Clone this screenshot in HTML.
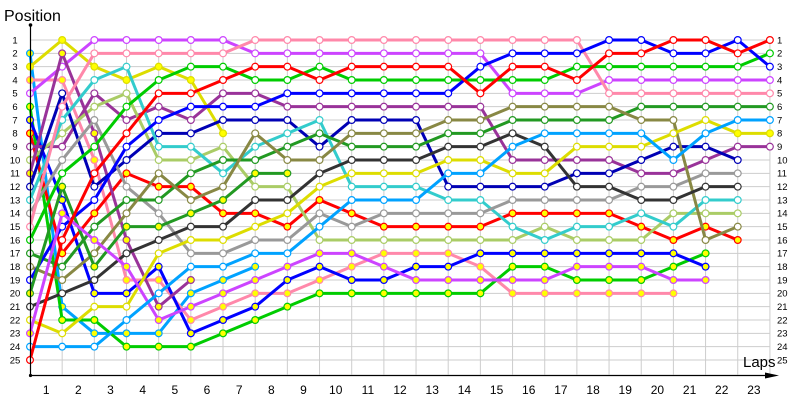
<!DOCTYPE html>
<html><head><meta charset="utf-8"><style>
html,body{margin:0;padding:0;background:#fff;}
svg{display:block;font-family:"Liberation Sans",sans-serif;}
.g path{vector-effect:non-scaling-stroke;fill:none;}
.grid{stroke:#cdcdcd;stroke-width:1;}
.ln{stroke-width:3;stroke-linejoin:round;stroke-linecap:round;}
.mk{stroke-width:8;stroke-linecap:round;}
.mf{stroke-width:5.6;stroke-linecap:round;}
.yl text{font-size:9.5px;fill:#000;}
.xl text{font-size:12px;fill:#000;text-anchor:middle;}
</style></head><body>
<svg width="800" height="400" viewBox="0 0 800 400" xmlns="http://www.w3.org/2000/svg">
<rect width="800" height="400" fill="#fff"/>
<g class="g" transform="translate(30,26.667) scale(32.17,13.333)">
<path class="grid" d="M0,1H23M0,2H23M0,3H23M0,4H23M0,5H23M0,6H23M0,7H23M0,8H23M0,9H23M0,10H23M0,11H23M0,12H23M0,13H23M0,14H23M0,15H23M0,16H23M0,17H23M0,18H23M0,19H23M0,20H23M0,21H23M0,22H23M0,23H23M0,24H23M0,25H23"/>
<path class="grid" d="M1,1V26.1M2,1V26.1M3,1V26.1M4,1V26.1M5,1V26.1M6,1V26.1M7,1V26.1M8,1V26.1M9,1V26.1M10,1V26.1M11,1V26.1M12,1V26.1M13,1V26.1M14,1V26.1M15,1V26.1M16,1V26.1M17,1V26.1M18,1V26.1M19,1V26.1M20,1V26.1M21,1V26.1M22,1V26.1M23,1V26.1"/>

<!-- lightblue Y -->
<path class="ln" stroke="#00a2ff" d="M0,2L1,21 2,23 3,23 4,23 5,20 6,19 7,18"/>
<path class="mk" stroke="#00a2ff" d="M0,2h0M1,21h0M2,23h0M3,23h0M4,23h0M5,20h0M6,19h0M7,18h0"/>
<path class="mf" stroke="#ffff00" d="M0,2h0M1,21h0M2,23h0M3,23h0M4,23h0M5,20h0M6,19h0M7,18h0"/>
<!-- yellow Y -->
<path class="ln" stroke="#dddd00" d="M0,3L1,1 2,3 3,4 4,3 5,4 6,8"/>
<path class="mk" stroke="#dddd00" d="M0,3h0M1,1h0M2,3h0M3,4h0M4,3h0M5,4h0M6,8h0"/>
<path class="mf" stroke="#ffff00" d="M0,3h0M1,1h0M2,3h0M3,4h0M4,3h0M5,4h0M6,8h0"/>
<!-- pink Y -->
<path class="ln" stroke="#ff88aa" d="M0,4L1,4 2,10 3,19 4,19 5,22 6,21 7,20 8,20 9,19 10,18 11,17 12,17 13,17 14,18 15,20 16,20 17,20 18,20 19,20 20,20"/>
<path class="mk" stroke="#ff88aa" d="M0,4h0M1,4h0M2,10h0M3,19h0M4,19h0M5,22h0M6,21h0M7,20h0M8,20h0M9,19h0M10,18h0M11,17h0M12,17h0M13,17h0M14,18h0M15,20h0M16,20h0M17,20h0M18,20h0M19,20h0M20,20h0"/>
<path class="mf" stroke="#ffff00" d="M0,4h0M1,4h0M2,10h0M3,19h0M4,19h0M5,22h0M6,21h0M7,20h0M8,20h0M9,19h0M10,18h0M11,17h0M12,17h0M13,17h0M14,18h0M15,20h0M16,20h0M17,20h0M18,20h0M19,20h0M20,20h0"/>
<!-- magenta W -->
<path class="ln" stroke="#cc44ff" d="M0,5L1,3 2,1 3,1 4,1 5,1 6,1 7,2 8,2 9,2 10,2 11,2 12,2 13,2 14,2 15,5 16,5 17,5 18,4 19,4 20,4 21,4 22,4 23,4"/>
<path class="mk" stroke="#cc44ff" d="M0,5h0M1,3h0M2,1h0M3,1h0M4,1h0M5,1h0M6,1h0M7,2h0M8,2h0M9,2h0M10,2h0M11,2h0M12,2h0M13,2h0M14,2h0M15,5h0M16,5h0M17,5h0M18,4h0M19,4h0M20,4h0M21,4h0M22,4h0M23,4h0"/>
<path class="mf" stroke="#ffffff" d="M0,5h0M1,3h0M2,1h0M3,1h0M4,1h0M5,1h0M6,1h0M7,2h0M8,2h0M9,2h0M10,2h0M11,2h0M12,2h0M13,2h0M14,2h0M15,5h0M16,5h0M17,5h0M18,4h0M19,4h0M20,4h0M21,4h0M22,4h0M23,4h0"/>
<!-- green Y -->
<path class="ln" stroke="#00cc00" d="M0,6L1,22 2,22 3,24 4,24 5,24 6,23 7,22 8,21 9,20 10,20 11,20 12,20 13,20 14,20 15,18 16,18 17,19 18,19 19,19 20,18 21,17"/>
<path class="mk" stroke="#00cc00" d="M0,6h0M1,22h0M2,22h0M3,24h0M4,24h0M5,24h0M6,23h0M7,22h0M8,21h0M9,20h0M10,20h0M11,20h0M12,20h0M13,20h0M14,20h0M15,18h0M16,18h0M17,19h0M18,19h0M19,19h0M20,18h0M21,17h0"/>
<path class="mf" stroke="#ffff00" d="M0,6h0M1,22h0M2,22h0M3,24h0M4,24h0M5,24h0M6,23h0M7,22h0M8,21h0M9,20h0M10,20h0M11,20h0M12,20h0M13,20h0M14,20h0M15,18h0M16,18h0M17,19h0M18,19h0M19,19h0M20,18h0M21,17h0"/>
<!-- blue Y -->
<path class="ln" stroke="#0000ff" d="M0,7L1,13 2,20 3,20 4,18 5,23 6,22 7,21 8,19 9,18 10,19 11,19 12,18 13,18 14,17 15,17 16,17 17,17 18,17 19,17 20,17 21,18"/>
<path class="mk" stroke="#0000ff" d="M0,7h0M1,13h0M2,20h0M3,20h0M4,18h0M5,23h0M6,22h0M7,21h0M8,19h0M9,18h0M10,19h0M11,19h0M12,18h0M13,18h0M14,17h0M15,17h0M16,17h0M17,17h0M18,17h0M19,17h0M20,17h0M21,18h0"/>
<path class="mf" stroke="#ffff00" d="M0,7h0M1,13h0M2,20h0M3,20h0M4,18h0M5,23h0M6,22h0M7,21h0M8,19h0M9,18h0M10,19h0M11,19h0M12,18h0M13,18h0M14,17h0M15,17h0M16,17h0M17,17h0M18,17h0M19,17h0M20,17h0M21,18h0"/>
<!-- red Y -->
<path class="ln" stroke="#ff0000" d="M0,8L1,17 2,14 3,11 4,12 5,12 6,14 7,14 8,15 9,13 10,14 11,15 12,15 13,15 14,15 15,14 16,14 17,14 18,14 19,15 20,16 21,15 22,16"/>
<path class="mk" stroke="#ff0000" d="M0,8h0M1,17h0M2,14h0M3,11h0M4,12h0M5,12h0M6,14h0M7,14h0M8,15h0M9,13h0M10,14h0M11,15h0M12,15h0M13,15h0M14,15h0M15,14h0M16,14h0M17,14h0M18,14h0M19,15h0M20,16h0M21,15h0M22,16h0"/>
<path class="mf" stroke="#ffff00" d="M0,8h0M1,17h0M2,14h0M3,11h0M4,12h0M5,12h0M6,14h0M7,14h0M8,15h0M9,13h0M10,14h0M11,15h0M12,15h0M13,15h0M14,15h0M15,14h0M16,14h0M17,14h0M18,14h0M19,15h0M20,16h0M21,15h0M22,16h0"/>
<!-- purple W -->
<path class="ln" stroke="#993399" d="M0,9L1,9 2,5 3,7 4,6 5,7 6,5 7,5 8,6 9,6 10,6 11,6 12,6 13,6 14,6 15,10 16,10 17,10 18,10 19,11 20,11 21,10 22,9 23,9"/>
<path class="mk" stroke="#993399" d="M0,9h0M1,9h0M2,5h0M3,7h0M4,6h0M5,7h0M6,5h0M7,5h0M8,6h0M9,6h0M10,6h0M11,6h0M12,6h0M13,6h0M14,6h0M15,10h0M16,10h0M17,10h0M18,10h0M19,11h0M20,11h0M21,10h0M22,9h0M23,9h0"/>
<path class="mf" stroke="#ffffff" d="M0,9h0M1,9h0M2,5h0M3,7h0M4,6h0M5,7h0M6,5h0M7,5h0M8,6h0M9,6h0M10,6h0M11,6h0M12,6h0M13,6h0M14,6h0M15,10h0M16,10h0M17,10h0M18,10h0M19,11h0M20,11h0M21,10h0M22,9h0M23,9h0"/>
<!-- light olive W -->
<path class="ln" stroke="#aacc66" d="M0,10L1,8 2,6 3,5 4,10 5,10 6,9 7,12 8,12 9,16 10,16 11,16 12,16 13,16 14,16 15,16 16,15 17,16 18,16 19,16 20,14 21,14 22,14"/>
<path class="mk" stroke="#aacc66" d="M0,10h0M1,8h0M2,6h0M3,5h0M4,10h0M5,10h0M6,9h0M7,12h0M8,12h0M9,16h0M10,16h0M11,16h0M12,16h0M13,16h0M14,16h0M15,16h0M16,15h0M17,16h0M18,16h0M19,16h0M20,14h0M21,14h0M22,14h0"/>
<path class="mf" stroke="#ffffff" d="M0,10h0M1,8h0M2,6h0M3,5h0M4,10h0M5,10h0M6,9h0M7,12h0M8,12h0M9,16h0M10,16h0M11,16h0M12,16h0M13,16h0M14,16h0M15,16h0M16,15h0M17,16h0M18,16h0M19,16h0M20,14h0M21,14h0M22,14h0"/>
<!-- purple Y -->
<path class="ln" stroke="#993399" d="M0,11L1,2 2,8 3,16 4,21 5,19"/>
<path class="mk" stroke="#993399" d="M0,11h0M1,2h0M2,8h0M3,16h0M4,21h0M5,19h0"/>
<path class="mf" stroke="#ffff00" d="M0,11h0M1,2h0M2,8h0M3,16h0M4,21h0M5,19h0"/>
<!-- dark blue W -->
<path class="ln" stroke="#0000b4" d="M0,12L1,5 2,12 3,10 4,8 5,8 6,7 7,7 8,7 9,9 10,7 11,7 12,7 13,12 14,12 15,12 16,12 17,11 18,11 19,10 20,9 21,9 22,10"/>
<path class="mk" stroke="#0000b4" d="M0,12h0M1,5h0M2,12h0M3,10h0M4,8h0M5,8h0M6,7h0M7,7h0M8,7h0M9,9h0M10,7h0M11,7h0M12,7h0M13,12h0M14,12h0M15,12h0M16,12h0M17,11h0M18,11h0M19,10h0M20,9h0M21,9h0M22,10h0"/>
<path class="mf" stroke="#ffffff" d="M0,12h0M1,5h0M2,12h0M3,10h0M4,8h0M5,8h0M6,7h0M7,7h0M8,7h0M9,9h0M10,7h0M11,7h0M12,7h0M13,12h0M14,12h0M15,12h0M16,12h0M17,11h0M18,11h0M19,10h0M20,9h0M21,9h0M22,10h0"/>
<!-- cyan W -->
<path class="ln" stroke="#33cccc" d="M0,13L1,7 2,4 3,3 4,9 5,9 6,11 7,9 8,8 9,7 10,12 11,12 12,12 13,13 14,13 15,15 16,16 17,15 18,15 19,14 20,15 21,13 22,13"/>
<path class="mk" stroke="#33cccc" d="M0,13h0M1,7h0M2,4h0M3,3h0M4,9h0M5,9h0M6,11h0M7,9h0M8,8h0M9,7h0M10,12h0M11,12h0M12,12h0M13,13h0M14,13h0M15,15h0M16,16h0M17,15h0M18,15h0M19,14h0M20,15h0M21,13h0M22,13h0"/>
<path class="mf" stroke="#ffffff" d="M0,13h0M1,7h0M2,4h0M3,3h0M4,9h0M5,9h0M6,11h0M7,9h0M8,8h0M9,7h0M10,12h0M11,12h0M12,12h0M13,13h0M14,13h0M15,15h0M16,16h0M17,15h0M18,15h0M19,14h0M20,15h0M21,13h0M22,13h0"/>
<!-- gray W -->
<path class="ln" stroke="#999999" d="M0,14L1,10 2,7 3,12 4,14 5,17 6,17 7,16 8,16 9,14 10,15 11,14 12,14 13,14 14,14 15,13 16,13 17,13 18,13 19,12 20,12 21,11 22,11"/>
<path class="mk" stroke="#999999" d="M0,14h0M1,10h0M2,7h0M3,12h0M4,14h0M5,17h0M6,17h0M7,16h0M8,16h0M9,14h0M10,15h0M11,14h0M12,14h0M13,14h0M14,14h0M15,13h0M16,13h0M17,13h0M18,13h0M19,12h0M20,12h0M21,11h0M22,11h0"/>
<path class="mf" stroke="#ffffff" d="M0,14h0M1,10h0M2,7h0M3,12h0M4,14h0M5,17h0M6,17h0M7,16h0M8,16h0M9,14h0M10,15h0M11,14h0M12,14h0M13,14h0M14,14h0M15,13h0M16,13h0M17,13h0M18,13h0M19,12h0M20,12h0M21,11h0M22,11h0"/>
<!-- pink W -->
<path class="ln" stroke="#ff88aa" d="M0,15L1,6 2,2 3,2 4,2 5,2 6,2 7,1 8,1 9,1 10,1 11,1 12,1 13,1 14,1 15,1 16,1 17,1 18,5 19,5 20,5 21,5 22,5 23,5"/>
<path class="mk" stroke="#ff88aa" d="M0,15h0M1,6h0M2,2h0M3,2h0M4,2h0M5,2h0M6,2h0M7,1h0M8,1h0M9,1h0M10,1h0M11,1h0M12,1h0M13,1h0M14,1h0M15,1h0M16,1h0M17,1h0M18,5h0M19,5h0M20,5h0M21,5h0M22,5h0M23,5h0"/>
<path class="mf" stroke="#ffffff" d="M0,15h0M1,6h0M2,2h0M3,2h0M4,2h0M5,2h0M6,2h0M7,1h0M8,1h0M9,1h0M10,1h0M11,1h0M12,1h0M13,1h0M14,1h0M15,1h0M16,1h0M17,1h0M18,5h0M19,5h0M20,5h0M21,5h0M22,5h0M23,5h0"/>
<!-- green W -->
<path class="ln" stroke="#00cc00" d="M0,16L1,11 2,9 3,6 4,4 5,3 6,3 7,4 8,4 9,3 10,4 11,4 12,4 13,4 14,4 15,4 16,4 17,3 18,3 19,3 20,3 21,3 22,3 23,2"/>
<path class="mk" stroke="#00cc00" d="M0,16h0M1,11h0M2,9h0M3,6h0M4,4h0M5,3h0M6,3h0M7,4h0M8,4h0M9,3h0M10,4h0M11,4h0M12,4h0M13,4h0M14,4h0M15,4h0M16,4h0M17,3h0M18,3h0M19,3h0M20,3h0M21,3h0M22,3h0M23,2h0"/>
<path class="mf" stroke="#ffffff" d="M0,16h0M1,11h0M2,9h0M3,6h0M4,4h0M5,3h0M6,3h0M7,4h0M8,4h0M9,3h0M10,4h0M11,4h0M12,4h0M13,4h0M14,4h0M15,4h0M16,4h0M17,3h0M18,3h0M19,3h0M20,3h0M21,3h0M22,3h0M23,2h0"/>
<!-- dark green W -->
<path class="ln" stroke="#229922" d="M0,17L1,18 2,15 3,13 4,13 5,11 6,10 7,10 8,9 9,8 10,9 11,9 12,9 13,8 14,8 15,7 16,7 17,7 18,7 19,6 20,6 21,6 22,6 23,6"/>
<path class="mk" stroke="#229922" d="M0,17h0M1,18h0M2,15h0M3,13h0M4,13h0M5,11h0M6,10h0M7,10h0M8,9h0M9,8h0M10,9h0M11,9h0M12,9h0M13,8h0M14,8h0M15,7h0M16,7h0M17,7h0M18,7h0M19,6h0M20,6h0M21,6h0M22,6h0M23,6h0"/>
<path class="mf" stroke="#ffffff" d="M0,17h0M1,18h0M2,15h0M3,13h0M4,13h0M5,11h0M6,10h0M7,10h0M8,9h0M9,8h0M10,9h0M11,9h0M12,9h0M13,8h0M14,8h0M15,7h0M16,7h0M17,7h0M18,7h0M19,6h0M20,6h0M21,6h0M22,6h0M23,6h0"/>
<!-- olive W -->
<path class="ln" stroke="#888844" d="M0,18L1,19 2,17 3,14 4,11 5,13 6,12 7,8 8,10 9,10 10,8 11,8 12,8 13,7 14,7 15,6 16,6 17,6 18,6 19,7 20,7 21,16 22,15"/>
<path class="mk" stroke="#888844" d="M0,18h0M1,19h0M2,17h0M3,14h0M4,11h0M5,13h0M6,12h0M7,8h0M8,10h0M9,10h0M10,8h0M11,8h0M12,8h0M13,7h0M14,7h0M15,6h0M16,6h0M17,6h0M18,6h0M19,7h0M20,7h0M21,16h0M22,15h0"/>
<path class="mf" stroke="#ffffff" d="M0,18h0M1,19h0M2,17h0M3,14h0M4,11h0M5,13h0M6,12h0M7,8h0M8,10h0M9,10h0M10,8h0M11,8h0M12,8h0M13,7h0M14,7h0M15,6h0M16,6h0M17,6h0M18,6h0M19,7h0M20,7h0M21,16h0M22,15h0"/>
<!-- blue W -->
<path class="ln" stroke="#0000ff" d="M0,19L1,15 2,13 3,9 4,7 5,6 6,6 7,6 8,5 9,5 10,5 11,5 12,5 13,5 14,3 15,2 16,2 17,2 18,1 19,1 20,2 21,2 22,1 23,3"/>
<path class="mk" stroke="#0000ff" d="M0,19h0M1,15h0M2,13h0M3,9h0M4,7h0M5,6h0M6,6h0M7,6h0M8,5h0M9,5h0M10,5h0M11,5h0M12,5h0M13,5h0M14,3h0M15,2h0M16,2h0M17,2h0M18,1h0M19,1h0M20,2h0M21,2h0M22,1h0M23,3h0"/>
<path class="mf" stroke="#ffffff" d="M0,19h0M1,15h0M2,13h0M3,9h0M4,7h0M5,6h0M6,6h0M7,6h0M8,5h0M9,5h0M10,5h0M11,5h0M12,5h0M13,5h0M14,3h0M15,2h0M16,2h0M17,2h0M18,1h0M19,1h0M20,2h0M21,2h0M22,1h0M23,3h0"/>
<!-- dark green Y -->
<path class="ln" stroke="#229922" d="M0,20L1,12 2,18 3,15 4,15 5,14 6,13 7,11 8,11"/>
<path class="mk" stroke="#229922" d="M0,20h0M1,12h0M2,18h0M3,15h0M4,15h0M5,14h0M6,13h0M7,11h0M8,11h0"/>
<path class="mf" stroke="#ffff00" d="M0,20h0M1,12h0M2,18h0M3,15h0M4,15h0M5,14h0M6,13h0M7,11h0M8,11h0"/>
<!-- dark gray W -->
<path class="ln" stroke="#333333" d="M0,21L1,20 2,19 3,17 4,16 5,15 6,15 7,13 8,13 9,11 10,10 11,10 12,10 13,9 14,9 15,8 16,9 17,12 18,12 19,13 20,13 21,12 22,12"/>
<path class="mk" stroke="#333333" d="M0,21h0M1,20h0M2,19h0M3,17h0M4,16h0M5,15h0M6,15h0M7,13h0M8,13h0M9,11h0M10,10h0M11,10h0M12,10h0M13,9h0M14,9h0M15,8h0M16,9h0M17,12h0M18,12h0M19,13h0M20,13h0M21,12h0M22,12h0"/>
<path class="mf" stroke="#ffffff" d="M0,21h0M1,20h0M2,19h0M3,17h0M4,16h0M5,15h0M6,15h0M7,13h0M8,13h0M9,11h0M10,10h0M11,10h0M12,10h0M13,9h0M14,9h0M15,8h0M16,9h0M17,12h0M18,12h0M19,13h0M20,13h0M21,12h0M22,12h0"/>
<!-- yellow W -->
<path class="ln" stroke="#dddd00" d="M0,22L1,23 2,21 3,21 4,17 5,16 6,16 7,15 8,14 9,12 10,11 11,11 12,11 13,10 14,10 15,11 16,11 17,9 18,9 19,9 20,8 21,7 22,8 23,8"/>
<path class="mk" stroke="#dddd00" d="M0,22h0M1,23h0M2,21h0M3,21h0M4,17h0M5,16h0M6,16h0M7,15h0M8,14h0M9,12h0M10,11h0M11,11h0M12,11h0M13,10h0M14,10h0M15,11h0M16,11h0M17,9h0M18,9h0M19,9h0M20,8h0M21,7h0M22,8h0M23,8h0"/>
<path class="mf" stroke="#ffffff" d="M0,22h0M1,23h0M2,21h0M3,21h0M4,17h0M5,16h0M6,16h0M7,15h0M8,14h0M9,12h0M10,11h0M11,11h0M12,11h0M13,10h0M14,10h0M15,11h0M16,11h0M17,9h0M18,9h0M19,9h0M20,8h0M21,7h0"/>
<path class="mf" stroke="#ffff00" d="M22,8h0M23,8h0"/>
<!-- magenta Y -->
<path class="ln" stroke="#cc44ff" d="M0,23L1,14 2,16 3,18 4,22 5,21 6,20 7,19 8,18 9,17 10,17 11,18 12,19 13,19 14,19 15,19 16,19 17,18 18,18 19,18 20,19 21,19"/>
<path class="mk" stroke="#cc44ff" d="M0,23h0M1,14h0M2,16h0M3,18h0M4,22h0M5,21h0M6,20h0M7,19h0M8,18h0M9,17h0M10,17h0M11,18h0M12,19h0M13,19h0M14,19h0M15,19h0M16,19h0M17,18h0M18,18h0M19,18h0M20,19h0M21,19h0"/>
<path class="mf" stroke="#ffff00" d="M0,23h0M1,14h0M2,16h0M3,18h0M4,22h0M5,21h0M6,20h0M7,19h0M8,18h0M9,17h0M10,17h0M11,18h0M12,19h0M13,19h0M14,19h0M15,19h0M16,19h0M17,18h0M18,18h0M19,18h0M20,19h0M21,19h0"/>
<!-- lightblue W -->
<path class="ln" stroke="#00a2ff" d="M0,24L1,24 2,24 3,22 4,20 5,18 6,18 7,17 8,17 9,15 10,13 11,13 12,13 13,11 14,11 15,9 16,8 17,8 18,8 19,8 20,10 21,8 22,7 23,7"/>
<path class="mk" stroke="#00a2ff" d="M0,24h0M1,24h0M2,24h0M3,22h0M4,20h0M5,18h0M6,18h0M7,17h0M8,17h0M9,15h0M10,13h0M11,13h0M12,13h0M13,11h0M14,11h0M15,9h0M16,8h0M17,8h0M18,8h0M19,8h0M20,10h0M21,8h0M22,7h0M23,7h0"/>
<path class="mf" stroke="#ffffff" d="M0,24h0M1,24h0M2,24h0M3,22h0M4,20h0M5,18h0M6,18h0M7,17h0M8,17h0M9,15h0M10,13h0M11,13h0M12,13h0M13,11h0M14,11h0M15,9h0M16,8h0M17,8h0M18,8h0M19,8h0M20,10h0M21,8h0M22,7h0M23,7h0"/>
<!-- red W -->
<path class="ln" stroke="#ff0000" d="M0,25L1,16 2,11 3,8 4,5 5,5 6,4 7,3 8,3 9,4 10,3 11,3 12,3 13,3 14,5 15,3 16,3 17,4 18,2 19,2 20,1 21,1 22,2 23,1"/>
<path class="mk" stroke="#ff0000" d="M0,25h0M1,16h0M2,11h0M3,8h0M4,5h0M5,5h0M6,4h0M7,3h0M8,3h0M9,4h0M10,3h0M11,3h0M12,3h0M13,3h0M14,5h0M15,3h0M16,3h0M17,4h0M18,2h0M19,2h0M20,1h0M21,1h0M22,2h0M23,1h0"/>
<path class="mf" stroke="#ffffff" d="M0,25h0M1,16h0M2,11h0M3,8h0M4,5h0M5,5h0M6,4h0M7,3h0M8,3h0M9,4h0M10,3h0M11,3h0M12,3h0M13,3h0M14,5h0M15,3h0M16,3h0M17,4h0M18,2h0M19,2h0M20,1h0M21,1h0M22,2h0M23,1h0"/>
</g>

<!-- axes -->
<line x1="30.5" y1="25" x2="30.5" y2="375.5" stroke="#000" stroke-width="1.2"/>
<line x1="30" y1="375.5" x2="772" y2="375.5" stroke="#000" stroke-width="1.2"/>
<polygon points="765,372.5 779,375.5 765,378.5" fill="#000"/>
<circle cx="30.5" cy="25" r="1.8" fill="#000"/>
<circle cx="30.5" cy="375.5" r="1.6" fill="#000"/>

<text x="4" y="21" font-size="16" fill="#000">Position</text>
<text x="743" y="367" font-size="15" fill="#000">Laps</text>

<g class="yl" text-anchor="middle">
<text x="15" y="43.3">1</text><text x="15" y="56.6">2</text><text x="15" y="70">3</text><text x="15" y="83.3">4</text><text x="15" y="96.6">5</text><text x="15" y="110">6</text><text x="15" y="123.3">7</text><text x="15" y="136.6">8</text><text x="15" y="150">9</text><text x="15" y="163.3">10</text><text x="15" y="176.6">11</text><text x="15" y="190">12</text><text x="15" y="203.3">13</text><text x="15" y="216.6">14</text><text x="15" y="230">15</text><text x="15" y="243.3">16</text><text x="15" y="256.6">17</text><text x="15" y="270">18</text><text x="15" y="283.3">19</text><text x="15" y="296.6">20</text><text x="15" y="310">21</text><text x="15" y="323.3">22</text><text x="15" y="336.6">23</text><text x="15" y="350">24</text><text x="15" y="363.3">25</text>
</g>
<g class="yl" text-anchor="start">
<text x="777" y="43.3">1</text><text x="777" y="56.6">2</text><text x="777" y="70">3</text><text x="777" y="83.3">4</text><text x="777" y="96.6">5</text><text x="777" y="110">6</text><text x="777" y="123.3">7</text><text x="777" y="136.6">8</text><text x="777" y="150">9</text><text x="777" y="163.3">10</text><text x="777" y="176.6">11</text><text x="777" y="190">12</text><text x="777" y="203.3">13</text><text x="777" y="216.6">14</text><text x="777" y="230">15</text><text x="777" y="243.3">16</text><text x="777" y="256.6">17</text><text x="777" y="270">18</text><text x="777" y="283.3">19</text><text x="777" y="296.6">20</text><text x="777" y="310">21</text><text x="777" y="323.3">22</text><text x="777" y="336.6">23</text><text x="777" y="350">24</text><text x="777" y="363.3">25</text>
</g>
<g class="xl">
<text x="46.2" y="394">1</text><text x="78.3" y="394">2</text><text x="110.5" y="394">3</text><text x="142.7" y="394">4</text><text x="174.9" y="394">5</text><text x="207" y="394">6</text><text x="239.2" y="394">7</text><text x="271.4" y="394">8</text><text x="303.5" y="394">9</text><text x="335.7" y="394">10</text><text x="367.9" y="394">11</text><text x="400" y="394">12</text><text x="432.2" y="394">13</text><text x="464.4" y="394">14</text><text x="496.6" y="394">15</text><text x="528.7" y="394">16</text><text x="560.9" y="394">17</text><text x="593.1" y="394">18</text><text x="625.2" y="394">19</text><text x="657.4" y="394">20</text><text x="689.6" y="394">21</text><text x="721.7" y="394">22</text><text x="753.9" y="394">23</text>
</g>
</svg>
</body></html>
